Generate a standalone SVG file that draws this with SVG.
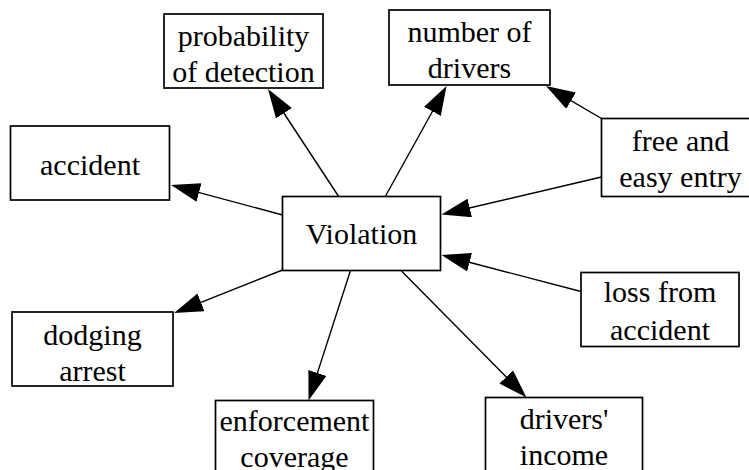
<svg xmlns="http://www.w3.org/2000/svg" width="749" height="470" viewBox="0 0 749 470">
  <style>
    .box { fill: #ffffff; stroke: #000000; stroke-width: 1.7; }
    text { font-family: Liberation Serif, Times New Roman, Times, DejaVu Serif, Noto Serif, serif; font-size: 30px; fill: #000000; text-anchor: middle; }
    .edge { stroke: #000000; stroke-width: 1.4; fill: none; marker-end: url(#arrow); }
  </style>
  <defs>
    <!-- filled arrowhead; the tip sits 12px past the end of the line -->
    <marker id="arrow" markerUnits="userSpaceOnUse" viewBox="0 0 29 19" markerWidth="29" markerHeight="19" refX="17" refY="9.5" orient="auto">
      <path d="M0,0 L29,9.5 L0,19 Z" fill="#000000"/>
    </marker>
  </defs>
  <rect width="749" height="470" fill="#ffffff"/>

  <g id="connectors">
    <line class="edge" x1="339" y1="197" x2="274.6" y2="99"/>
    <line class="edge" x1="385" y1="197" x2="440.7" y2="96.5"/>
    <line class="edge" x1="601.5" y1="118.5" x2="556.4" y2="92.1"/>
    <line class="edge" x1="601.5" y1="177" x2="453.2" y2="211.8"/>
    <line class="edge" x1="282.5" y1="215" x2="182.6" y2="188.1"/>
    <line class="edge" x1="581" y1="291.5" x2="453.1" y2="258"/>
    <line class="edge" x1="282.5" y1="270" x2="185.2" y2="308.6"/>
    <line class="edge" x1="350.5" y1="270.5" x2="312.2" y2="389.1"/>
    <line class="edge" x1="401.5" y1="271" x2="518.1" y2="389"/>
  </g>

  <g id="probability">
    <rect class="box" x="164" y="14" width="159" height="74"/>
    <text x="243.5" y="46">probability</text>
    <text x="243.5" y="82">of detection</text>
  </g>

  <g id="number-of-drivers">
    <rect class="box" x="389" y="10" width="161" height="75"/>
    <text x="469.5" y="41.5">number of</text>
    <text x="469.5" y="77.5">drivers</text>
  </g>

  <g id="accident">
    <rect class="box" x="10.5" y="126" width="159" height="74"/>
    <text x="90" y="175">accident</text>
  </g>

  <g id="violation">
    <rect class="box" x="282.5" y="196.5" width="158" height="74"/>
    <text x="361.5" y="244">Violation</text>
  </g>

  <g id="free-entry">
    <rect class="box" x="601.5" y="118.5" width="158" height="78"/>
    <text x="680.5" y="151">free and</text>
    <text x="680.5" y="187">easy entry</text>
  </g>

  <g id="loss-from-accident">
    <rect class="box" x="581" y="272.5" width="158" height="74"/>
    <text x="660" y="301.5">loss from</text>
    <text x="660" y="339.5">accident</text>
  </g>

  <g id="dodging-arrest">
    <rect class="box" x="12" y="312" width="161" height="74"/>
    <text x="92.5" y="344.5">dodging</text>
    <text x="92.5" y="380.5">arrest</text>
  </g>

  <g id="enforcement-coverage">
    <rect class="box" x="215.5" y="400.5" width="158" height="74"/>
    <text x="294.5" y="431">enforcement</text>
    <text x="294.5" y="467">coverage</text>
  </g>

  <g id="drivers-income">
    <rect class="box" x="485.5" y="397.5" width="157" height="74"/>
    <text x="564" y="428.5">drivers'</text>
    <text x="564" y="464.5">income</text>
  </g>
</svg>
